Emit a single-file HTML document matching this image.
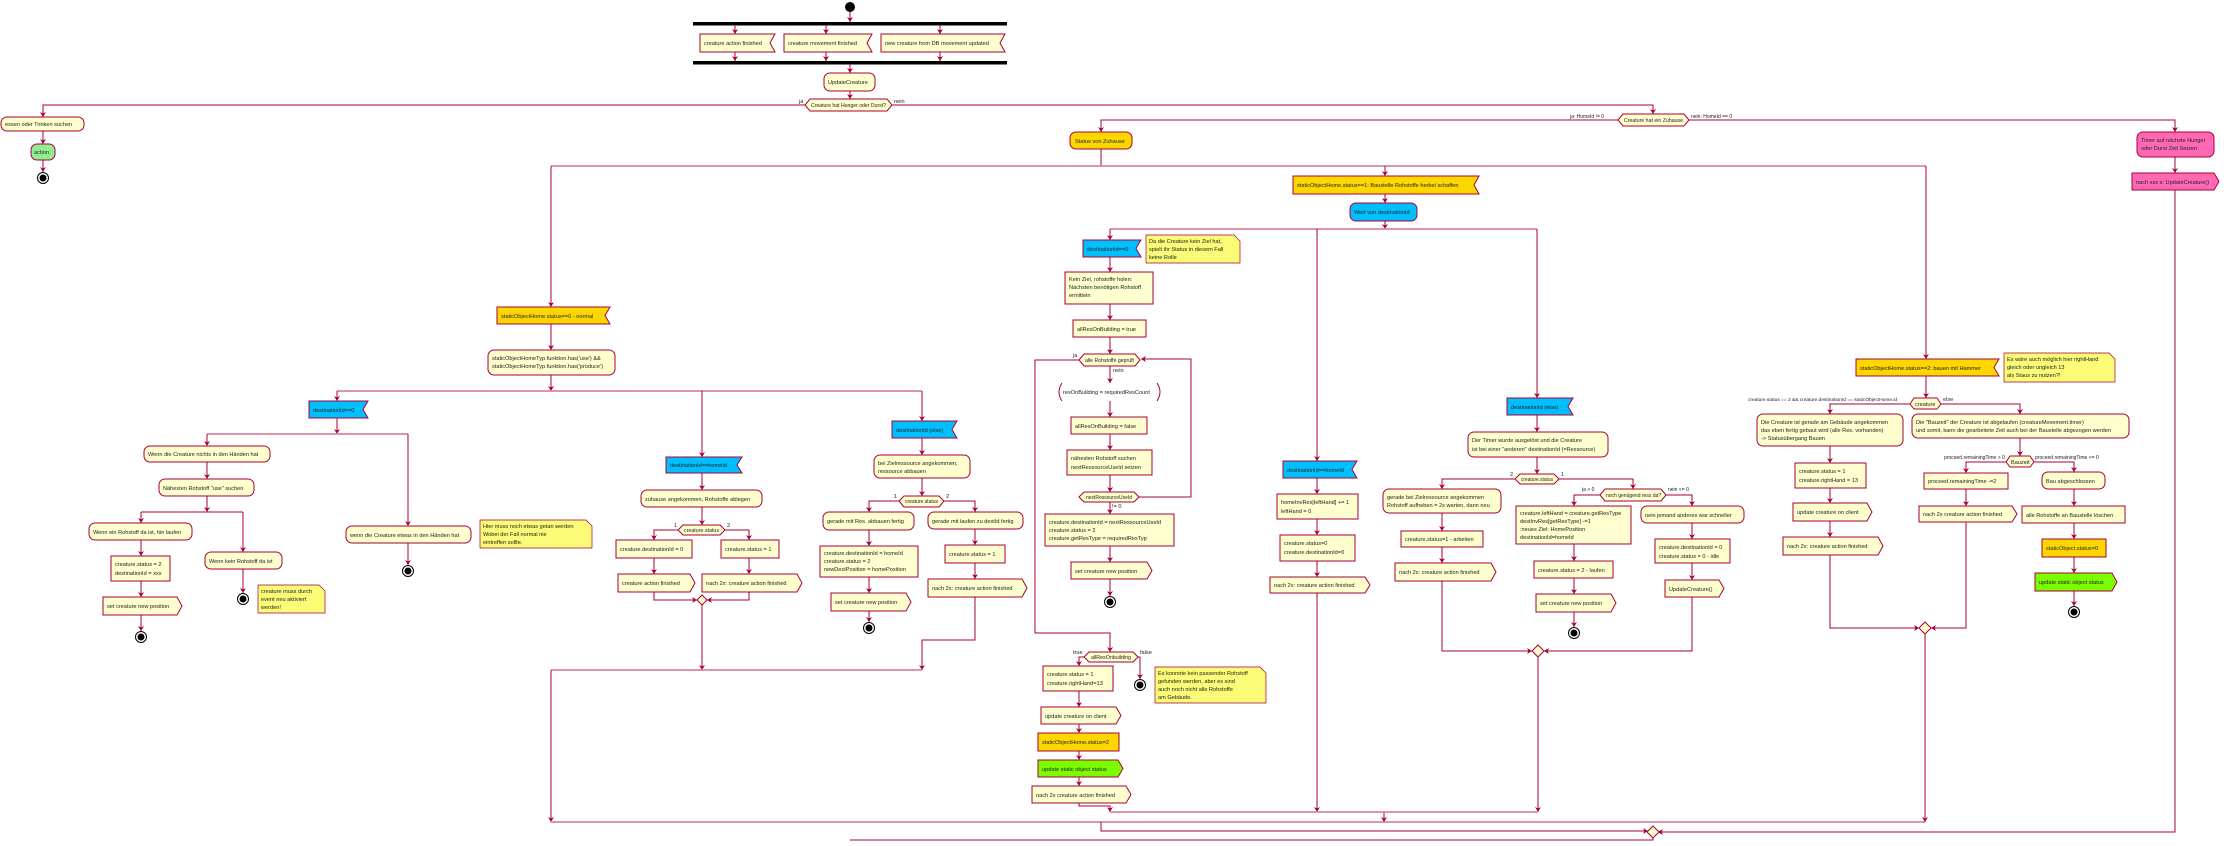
<!DOCTYPE html>
<html><head><meta charset="utf-8"><style>
html,body{margin:0;padding:0;background:#fff}
svg{display:block}
text{font-family:"Liberation Sans",sans-serif;font-size:5.6px;fill:#222}
.b{fill:#FEFECE;stroke:#A80036;stroke-width:1}
.g{fill:#FFD700;stroke:#A80036;stroke-width:1}
.bl{fill:#00BFFF;stroke:#A80036;stroke-width:1}
.gr{fill:#7CFC00;stroke:#A80036;stroke-width:1}
.lg{fill:#90EE90;stroke:#A80036;stroke-width:1}
.pk{fill:#FF69B4;stroke:#A80036;stroke-width:1}
.n{fill:#FBFB77;stroke:#A80036;stroke-width:.7}
.l{fill:none;stroke:#A80036;stroke-width:1;marker-end:url(#a)}
.l0{fill:none;stroke:#A80036;stroke-width:1}
.s{fill:none;stroke:#D9869F;stroke-width:1.8}
.k{fill:#000}
</style></head><body>
<svg width="2229" height="846" viewBox="0 0 2229 846" xmlns="http://www.w3.org/2000/svg">
<defs><marker id="a" markerWidth="6" markerHeight="6" refX="5" refY="3" orient="auto" markerUnits="userSpaceOnUse"><path d="M0,0 L5,3 L0,6 L1.5,3 Z" fill="#A80036"/></marker>
<g id="stop"><circle r="5.5" fill="#fff" stroke="#000" stroke-width="1"/><circle r="3.5" fill="#000"/></g></defs>

<!-- top -->
<circle cx="850" cy="7" r="5" class="k"/>
<rect x="693" y="22" width="314" height="3.5" class="k"/>
<rect x="693" y="61" width="314" height="3.5" class="k"/>
<polyline class="l" points="850,12 850,22"/>
<polyline class="l" points="735,25 735,34"/><polyline class="l" points="826,25 826,34"/><polyline class="l" points="940,25 940,34"/>
<polyline class="l" points="735,52 735,61"/><polyline class="l" points="826,52 826,61"/><polyline class="l" points="940,52 940,61"/>
<polygon class="b" points="700,34 775,34 770,43 775,52 700,52"/><text x="704" y="45">creature action finished</text>
<polygon class="b" points="784,34 872,34 867,43 872,52 784,52"/><text x="788" y="45">creature movement finished</text>
<polygon class="b" points="881,34 1005,34 1000,43 1005,52 881,52"/><text x="885" y="45">new creature from DB movement updated</text>
<polyline class="l" points="850,64 850,73"/>
<rect x="824" y="73" width="51" height="18" rx="6" class="b"/><text x="828" y="84">UpdateCreature</text>
<polyline class="l" points="850,91 850,99"/>
<polygon class="b" points="805,105 810,99 887,99 892,105 887,111 810,111"/><text x="811" y="107" textLength="75" lengthAdjust="spacingAndGlyphs">Creature hat Hunger oder Durst?</text>
<text x="799" y="103">ja</text><text x="894" y="103">nein</text>
<polyline class="l" points="805,105 43,105 43,117"/>
<rect x="1" y="117" width="83" height="14" rx="6" class="b"/><text x="5" y="126">essen oder Trinken suchen</text>
<polyline class="l" points="43,131 43,144"/>
<rect x="31" y="144" width="24" height="16" rx="6" class="lg"/><text x="34" y="154">action</text>
<polyline class="l" points="43,160 43,172"/><use href="#stop" x="43" y="178"/>

<polyline class="l" points="892,105 1653,105 1653,114"/>
<polygon class="b" points="1618,120 1623,114 1684,114 1689,120 1684,126 1623,126"/><text x="1624" y="122" textLength="59" lengthAdjust="spacingAndGlyphs">Creature hat ein Zuhause</text>
<text x="1570" y="118" style="font-size:5px">ja: HomeId != 0</text><text x="1691" y="118" style="font-size:5px">nein: HomeId == 0</text>
<polyline class="l" points="1618,120 1101,120 1101,132"/>
<polyline class="l" points="1689,120 2175,120 2175,132"/>
<rect x="2137" y="132" width="77" height="25" rx="6" class="pk"/><text x="2141" y="142">Timer auf nächste Hunger</text><text x="2141" y="150">oder Durst Zeit Setzen</text>
<polyline class="l" points="2175,157 2175,173"/>
<polygon class="pk" points="2132,173 2214,173 2219,181.5 2214,190 2132,190"/><text x="2136" y="184">nach xxx s: UpdateCreature()</text>
<polyline class="l" points="2175,190 2175,832 1658,832"/>

<rect x="1070" y="132" width="62" height="17" rx="6" class="g"/><text x="1075" y="143">Status von Zuhause</text>
<polyline class="l0" points="1101,149 1101,166"/>
<line class="s" x1="551" y1="166" x2="1926" y2="166"/>
<polyline class="l" points="551,166 551,307"/><polyline class="l" points="1385,166 1385,176"/><polyline class="l" points="1926,166 1926,359"/>

<!-- status 0 -->
<polygon class="g" points="497,307 610,307 605,315.5 610,324 497,324"/><text x="501" y="318">staticObjectHome.status==0 - normal</text>
<polyline class="l" points="551,324 551,350"/>
<rect x="488" y="350" width="127" height="25" rx="6" class="b"/><text x="492" y="360">staticObjectHomeTyp.funktion.has('use') &amp;&amp;</text><text x="492" y="368">staticObjectHomeTyp.funktion.has('produce')</text>
<polyline class="l" points="551,375 551,391"/>
<line class="s" x1="337" y1="391" x2="922" y2="391"/>
<polyline class="l" points="337,391 337,401"/><polyline class="l" points="702,391 702,457"/><polyline class="l" points="922,391 922,421"/>
<polygon class="bl" points="309,401 368,401 363,409.5 368,418 309,418"/><text x="313" y="412">destinationId==0</text>
<polyline class="l" points="337,418 337,434"/>
<line class="s" x1="207" y1="434" x2="408" y2="434"/>
<polyline class="l" points="207,434 207,446"/><polyline class="l" points="408,434 408,526"/>
<rect x="144" y="446" width="126" height="16" rx="6" class="b"/><text x="148" y="456">Wenn die Creature nichts in den Händen hat</text>
<polyline class="l" points="207,462 207,479"/>
<rect x="159" y="479" width="95" height="17" rx="6" class="b"/><text x="163" y="490">Nähesten Rohstoff "use" suchen</text>
<polyline class="l" points="207,496 207,512"/>
<line class="l0" x1="141" y1="512" x2="243" y2="512"/>
<polyline class="l" points="141,512 141,523"/><polyline class="l" points="243,512 243,552"/>
<rect x="89" y="523" width="103" height="17" rx="6" class="b"/><text x="93" y="534">Wenn ein Rohstoff da ist, hin laufen</text>
<polyline class="l" points="141,540 141,556"/>
<rect x="111" y="556" width="59" height="25" class="b"/><text x="115" y="566">creature.status = 2</text><text x="115" y="575">destinationId = xxx</text>
<polyline class="l" points="141,581 141,597"/>
<polygon class="b" points="103,597 177,597 182,606 177,615 103,615"/><text x="107" y="608">set creature new position</text>
<polyline class="l" points="141,615 141,631"/><use href="#stop" x="141" y="637"/>
<rect x="205" y="552" width="77" height="17" rx="6" class="b"/><text x="209" y="563">Wenn kein Rohstoff da ist</text>
<polyline class="l" points="243,569 243,593"/><use href="#stop" x="243" y="599"/>
<polygon class="n" points="258,585 319,585 325,591 325,613 258,613"/><text x="261" y="593">creature muss durch</text><text x="261" y="601">event neu aktiviert</text><text x="261" y="609">werden!</text>
<rect x="346" y="526" width="125" height="17" rx="6" class="b"/><text x="350" y="537">wenn die Creature etwas in den Händen hat</text>
<polyline class="l" points="408,543 408,565"/><use href="#stop" x="408" y="571"/>
<polygon class="n" points="480,520 586,520 592,526 592,548 480,548"/><text x="483" y="528">Hier muss noch etwas getan werden</text><text x="483" y="536">Wobei der Fall normal nie</text><text x="483" y="544">eintreffen sollte.</text>

<polygon class="bl" points="666,457 742,457 737,465 742,473 666,473"/><text x="670" y="467">destinationId==homeId</text>
<polyline class="l" points="702,473 702,490"/>
<rect x="641" y="490" width="121" height="17" rx="6" class="b"/><text x="645" y="501">zuhause angekommen, Rohstoffe ablegen</text>
<polyline class="l" points="702,507 702,525"/>
<polygon class="b" points="678,530 683,525 720,525 725,530 720,535 683,535"/><text x="684" y="532" textLength="35" lengthAdjust="spacingAndGlyphs">creature.status</text>
<text x="674" y="527">1</text><text x="727" y="527">2</text>
<polyline class="l" points="678,530 654,530 654,540"/><polyline class="l" points="725,530 749,530 749,540"/>
<rect x="616" y="540" width="76" height="18" class="b"/><text x="620" y="551">creature.destinationId = 0</text>
<rect x="721" y="540" width="58" height="18" class="b"/><text x="725" y="551">creature.status = 1</text>
<polyline class="l" points="654,558 654,574"/><polyline class="l" points="749,558 749,574"/>
<polygon class="b" points="618,574 690,574 695,583 690,592 618,592"/><text x="622" y="585">creature action finished</text>
<polygon class="b" points="702,574 797,574 802,583 797,592 702,592"/><text x="706" y="585">nach 2x: creature action finished</text>
<polyline class="l" points="654,592 654,600 697,600"/><polyline class="l" points="749,592 749,600 707,600"/>
<polygon class="b" points="702,595 707,600 702,605 697,600"/>
<polyline class="l" points="702,605 702,670"/>

<polygon class="bl" points="892,421 957,421 952,429.5 957,438 892,438"/><text x="896" y="432">destinationId (else)</text>
<polyline class="l" points="922,438 922,455"/>
<rect x="874" y="455" width="96" height="23" rx="6" class="b"/><text x="878" y="465">bei Zielressource angekommen,</text><text x="878" y="473">ressource abbauen</text>
<polyline class="l" points="922,478 922,496"/>
<polygon class="b" points="899,501 904,496 939,496 944,501 939,507 904,507"/><text x="905" y="503" textLength="33" lengthAdjust="spacingAndGlyphs">creature.status</text>
<text x="894" y="498">1</text><text x="946" y="498">2</text>
<polyline class="l" points="899,501 869,501 869,512"/><polyline class="l" points="944,501 975,501 975,512"/>
<rect x="823" y="512" width="91" height="18" rx="6" class="b"/><text x="827" y="523">gerade mit Res. abbauen fertig</text>
<polyline class="l" points="869,530 869,546"/>
<rect x="820" y="546" width="98" height="31" class="b"/><text x="824" y="555">creature.destinationId = homeId</text><text x="824" y="563">creature.status = 2</text><text x="824" y="571">newDestPosition = homePosition</text>
<polyline class="l" points="869,577 869,593"/>
<polygon class="b" points="831,593 906,593 911,602 906,611 831,611"/><text x="835" y="604">set creature new position</text>
<polyline class="l" points="869,611 869,622"/><use href="#stop" x="869" y="628"/>
<rect x="928" y="512" width="95" height="17" rx="6" class="b"/><text x="932" y="523">gerade mit laufen zu destId fertig</text>
<polyline class="l" points="975,529 975,545"/>
<rect x="945" y="545" width="60" height="18" class="b"/><text x="949" y="556">creature.status = 1</text>
<polyline class="l" points="975,563 975,579"/>
<polygon class="b" points="928,579 1022,579 1027,588 1022,597 928,597"/><text x="932" y="590">nach 2x: creature action finished</text>
<polyline class="l" points="975,597 975,640 922,640 922,670"/>
<line class="s" x1="551" y1="670" x2="922" y2="670"/>
<polyline class="l" points="551,670 551,822"/>

<!-- bottom merges -->
<line class="s" x1="551" y1="822" x2="1925" y2="822"/>
<polyline class="l" points="1925,632 1925,822"/>
<polyline class="l" points="1384,812 1384,822"/>
<polyline class="l" points="1101,822 1101,831 1648,831"/>
<polygon class="b" points="1653,826 1659,832 1653,838 1647,832"/>
<polyline class="l0" points="1653,838 1653,840 850,840"/>

<!-- status 1 -->
<polygon class="g" points="1293,176 1479,176 1474,185 1479,194 1293,194"/><text x="1297" y="187">staticObjectHome.status==1: Baustelle Rohstoffe herbei schaffen</text>
<polyline class="l" points="1385,194 1385,203"/>
<rect x="1350" y="203" width="67" height="18" rx="6" class="bl"/><text x="1354" y="214">Wert von destinationId</text>
<polyline class="l" points="1385,221 1385,229"/>
<line class="s" x1="1110" y1="229" x2="1537" y2="229"/>
<polyline class="l" points="1110,229 1110,240"/><polyline class="l" points="1317,229 1317,461"/><polyline class="l" points="1537,229 1537,398"/>
<polygon class="bl" points="1083,240 1141,240 1136,248.5 1141,257 1083,257"/><text x="1087" y="251">destinationId==0</text>
<polygon class="n" points="1146,235 1234,235 1240,241 1240,263 1146,263"/><text x="1149" y="243">Da die Creature kein Ziel hat,</text><text x="1149" y="251">spielt ihr Status in diesem Fall</text><text x="1149" y="259">keine Rolle</text>
<polyline class="l" points="1110,257 1110,272"/>
<rect x="1065" y="272" width="88" height="32" class="b"/><text x="1069" y="281">Kein Ziel, rohstoffe holen:</text><text x="1069" y="289">Nächsten benötigen Rohstoff</text><text x="1069" y="297">ermitteln</text>
<polyline class="l" points="1110,304 1110,320"/>
<rect x="1073" y="320" width="73" height="17" class="b"/><text x="1077" y="331">allResOnBuilding = true</text>
<polyline class="l" points="1110,337 1110,354"/>
<polygon class="b" points="1079,360 1084,354 1135,354 1140,360 1135,366 1084,366"/><text x="1085" y="362" textLength="49" lengthAdjust="spacingAndGlyphs">alle Rohstoffe geprüft</text>
<text x="1073" y="357">ja</text><text x="1113" y="372">nein</text>
<polyline class="l" points="1110,366 1110,383"/>
<path d="M1062,383 Q1056,392 1062,401 M1157,383 Q1163,392 1157,401" fill="none" stroke="#A80036" stroke-width="1"/><text x="1063" y="394">resOnBuilding = requiredResCount</text>
<polyline class="l" points="1110,401 1110,417"/>
<rect x="1071" y="417" width="76" height="17" class="b"/><text x="1075" y="428">allResOnBuilding = false</text>
<polyline class="l" points="1110,434 1110,450"/>
<rect x="1067" y="450" width="85" height="25" class="b"/><text x="1071" y="460">nähesten Rohstoff suchen</text><text x="1071" y="469">nextRessourceUseId setzen</text>
<polyline class="l" points="1110,475 1110,492"/>
<polygon class="b" points="1079,497 1084,492 1134,492 1139,497 1134,502 1084,502"/><text x="1086" y="499" textLength="46" lengthAdjust="spacingAndGlyphs">nextRessourceUseId</text>
<text x="1112" y="508">!= 0</text>
<polyline class="l" points="1139,497 1191,497 1191,359 1141,359"/>
<polyline class="l" points="1110,502 1110,514"/>
<rect x="1045" y="514" width="129" height="32" class="b"/><text x="1049" y="524">creature.destinationId = nextRessourceUseId</text><text x="1049" y="532">creature.status = 2</text><text x="1049" y="540">creature.getResType = requiredResTyp</text>
<polyline class="l" points="1110,546 1110,562"/>
<polygon class="b" points="1071,562 1147,562 1152,570.5 1147,579 1071,579"/><text x="1075" y="573">set creature new position</text>
<polyline class="l" points="1110,579 1110,596"/><use href="#stop" x="1110" y="602"/>
<polyline class="l" points="1079,360 1035,360 1035,633 1110,633 1110,652"/>
<polygon class="b" points="1084,657 1089,652 1133,652 1138,657 1133,662 1089,662"/><text x="1091" y="659" textLength="40" lengthAdjust="spacingAndGlyphs">allResOnbuilding</text>
<text x="1073" y="654">true</text><text x="1140" y="654">false</text>
<polyline class="l" points="1084,657 1079,657 1079,666"/>
<rect x="1043" y="666" width="70" height="25" class="b"/><text x="1047" y="676">creature.status = 1</text><text x="1047" y="685">creature.rightHand=13</text>
<polyline class="l" points="1079,691 1079,707"/>
<polygon class="b" points="1041,707 1116,707 1121,715.5 1116,724 1041,724"/><text x="1045" y="718">update creature on client</text>
<polyline class="l" points="1079,724 1079,733"/>
<rect x="1038" y="733" width="81" height="18" class="g"/><text x="1042" y="744">staticObjectHome.status=2</text>
<polyline class="l" points="1079,751 1079,760"/>
<polygon class="gr" points="1038,760 1118,760 1123,768.5 1118,777 1038,777"/><text x="1042" y="771">update static object status</text>
<polyline class="l" points="1079,777 1079,786"/>
<polygon class="b" points="1032,786 1126,786 1131,794.5 1126,803 1032,803"/><text x="1036" y="797">nach 2x creature action finished</text>
<polyline class="l" points="1079,803 1079,806 1110,806 1110,812"/>
<polyline class="l" points="1138,657 1140,657 1140,679"/><use href="#stop" x="1140" y="685"/>
<polygon class="n" points="1155,667 1260,667 1266,673 1266,703 1155,703"/><text x="1158" y="675">Es konnnte kein passender Rohstoff</text><text x="1158" y="683">gefunden werden, aber es sind</text><text x="1158" y="691">auch noch nicht alle Rohstoffe</text><text x="1158" y="699">am Gebäude.</text>

<polygon class="bl" points="1283,461 1357,461 1352,469.5 1357,478 1283,478"/><text x="1287" y="472">destinationId==homeId</text>
<polyline class="l" points="1317,478 1317,494"/>
<rect x="1277" y="494" width="81" height="25" class="b"/><text x="1281" y="504">homeInvRes[leftHand] += 1</text><text x="1281" y="513">leftHand = 0</text>
<polyline class="l" points="1317,519 1317,535"/>
<rect x="1280" y="535" width="75" height="26" class="b"/><text x="1284" y="545">creature.status=0</text><text x="1284" y="554">creature.destinationId=0</text>
<polyline class="l" points="1317,561 1317,577"/>
<polygon class="b" points="1270,577 1365,577 1370,585 1365,593 1270,593"/><text x="1274" y="587">nach 2x: creature action finished</text>
<polyline class="l" points="1317,593 1317,812"/>

<polygon class="bl" points="1507,398 1573,398 1568,406.5 1573,415 1507,415"/><text x="1511" y="409">destinationId (else)</text>
<polyline class="l" points="1537,415 1537,432"/>
<rect x="1468" y="432" width="140" height="25" rx="6" class="b"/><text x="1472" y="442">Der Timer wurde ausgelöst und die Creature</text><text x="1472" y="451">ist bei einer "anderen" destinationId (=Ressource)</text>
<polyline class="l" points="1537,457 1537,474"/>
<polygon class="b" points="1515,479 1520,474 1554,474 1559,479 1554,484 1520,484"/><text x="1521" y="481" textLength="32" lengthAdjust="spacingAndGlyphs">creature.status</text>
<text x="1510" y="476">2</text><text x="1561" y="476">1</text>
<polyline class="l" points="1515,479 1442,479 1442,489"/><polyline class="l" points="1559,479 1633,479 1633,489"/>
<rect x="1383" y="489" width="118" height="24" rx="6" class="b"/><text x="1387" y="499">gerade bei Zielressource angekommen</text><text x="1387" y="507">Rohstoff aufheben = 2s warten, dann neu</text>
<polyline class="l" points="1442,513 1442,531"/>
<rect x="1401" y="531" width="82" height="16" class="b"/><text x="1405" y="541">creature.status=1 - arbeiten</text>
<polyline class="l" points="1442,547 1442,563"/>
<polygon class="b" points="1395,563 1491,563 1496,572 1491,581 1395,581"/><text x="1399" y="574">nach 2x: creature action finished</text>
<polyline class="l" points="1442,581 1442,651 1532,651"/>
<polygon class="b" points="1600,495 1605,489 1661,489 1666,495 1661,501 1605,501"/><text x="1606" y="497" style="font-size:5px">noch genügend ress da?</text>
<text x="1582" y="491" style="font-size:5px">ja &gt; 0</text><text x="1668" y="491" style="font-size:5px">nein &lt;= 0</text>
<polyline class="l" points="1600,495 1574,495 1574,506"/><polyline class="l" points="1666,495 1692,495 1692,506"/>
<rect x="1516" y="506" width="115" height="38" class="b"/><text x="1520" y="515">creature.leftHand = creature.getResType</text><text x="1520" y="523">destInvRes[getResType] -=1</text><text x="1520" y="531">:neues Ziel: HomePosition</text><text x="1520" y="539">destinationId=homeId</text>
<polyline class="l" points="1574,544 1574,561"/>
<rect x="1534" y="561" width="79" height="17" class="b"/><text x="1538" y="572">creature.status = 2 - laufen</text>
<polyline class="l" points="1574,578 1574,594"/>
<polygon class="b" points="1536,594 1611,594 1616,603 1611,612 1536,612"/><text x="1540" y="605">set creature new position</text>
<polyline class="l" points="1574,612 1574,627"/><use href="#stop" x="1574" y="633"/>
<rect x="1641" y="506" width="103" height="17" rx="6" class="b"/><text x="1645" y="517">nein jemand anderes war schneller</text>
<polyline class="l" points="1692,523 1692,539"/>
<rect x="1655" y="539" width="75" height="24" class="b"/><text x="1659" y="549">creature.destinationId = 0</text><text x="1659" y="558">creature.status = 0 - idle</text>
<polyline class="l" points="1692,563 1692,580"/>
<polygon class="b" points="1665,580 1719,580 1724,588.5 1719,597 1665,597"/><text x="1669" y="591">UpdateCreature()</text>
<polyline class="l" points="1692,597 1692,651 1544,651"/>
<polygon class="b" points="1538,645 1544,651 1538,657 1532,651"/>
<polyline class="l" points="1538,657 1538,812"/>
<line class="s" x1="1110" y1="812" x2="1538" y2="812"/>

<!-- status 2 -->
<polygon class="g" points="1856,359 1999,359 1994,367.5 1999,376 1856,376"/><text x="1860" y="370">staticObjectHome.status==2: bauen mit Hammer</text>
<polygon class="n" points="2004,353 2109,353 2115,359 2115,382 2004,382"/><text x="2007" y="361">Es wäre auch möglich hier rightHand</text><text x="2007" y="369">gleich oder ungleich 13</text><text x="2007" y="377">als Staus zu nutzen?!</text>
<polyline class="l" points="1926,376 1926,398"/>
<polygon class="b" points="1910,404 1914,398 1937,398 1941,404 1937,409 1914,409"/><text x="1915" y="406">creature</text>
<text x="1748" y="401" style="font-size:4.8px">creature.status == 2 &amp;&amp; creature.destinationId == staticObjectHome.id</text><text x="1943" y="401">else</text>
<polyline class="l" points="1910,404 1830,404 1830,414"/><polyline class="l" points="1941,404 2020,404 2020,414"/>
<rect x="1757" y="414" width="146" height="32" rx="6" class="b"/><text x="1761" y="424">Die Creature ist gerade am Gebäude angekommen</text><text x="1761" y="432">das eben fertig gebaut wird (alle Res. vorhanden)</text><text x="1761" y="440">-&gt; Statusübergang Bauen</text>
<polyline class="l" points="1830,446 1830,463"/>
<rect x="1795" y="463" width="71" height="25" class="b"/><text x="1799" y="473">creature.status = 1</text><text x="1799" y="482">creature.rightHand = 13</text>
<polyline class="l" points="1830,488 1830,503"/>
<polygon class="b" points="1793,503 1867,503 1872,512 1867,521 1793,521"/><text x="1797" y="514">update creature on client</text>
<polyline class="l" points="1830,521 1830,537"/>
<polygon class="b" points="1783,537 1878,537 1883,546 1878,555 1783,555"/><text x="1787" y="548">nach 2x: creature action finished</text>
<polyline class="l" points="1830,555 1830,628 1919,628"/>
<rect x="1912" y="414" width="217" height="24" rx="6" class="b"/><text x="1916" y="424">Die "Bauzeit" der Creature ist abgelaufen (creatureMovement.timer)</text><text x="1916" y="432">und somit, kann die gearbeitete Zeit auch bei der Baustelle abgezogen werden</text>
<polyline class="l" points="2020,438 2020,456"/>
<polygon class="b" points="2006,462 2010,456 2030,456 2034,462 2030,467 2010,467"/><text x="2011" y="464">Bauzeit</text>
<text x="1944" y="459" style="font-size:5px">proceed.remainingTime &gt; 0</text><text x="2035" y="459" style="font-size:5px">proceed.remainingTime &lt;= 0</text>
<polyline class="l" points="2006,462 1966,462 1966,473"/><polyline class="l" points="2034,462 2074,462 2074,472"/>
<rect x="1924" y="473" width="84" height="16" class="b"/><text x="1928" y="483">proceed.remainingTime -=2</text>
<polyline class="l" points="1966,489 1966,506"/>
<polygon class="b" points="1919,506 2012,506 2017,514 2012,522 1919,522"/><text x="1923" y="516">nach 2x creature action finished</text>
<polyline class="l" points="1966,522 1966,628 1931,628"/>
<polygon class="b" points="1925,622 1931,628 1925,634 1919,628"/>
<rect x="2042" y="472" width="63" height="17" rx="6" class="b"/><text x="2046" y="483">Bau abgeschlossen</text>
<polyline class="l" points="2074,489 2074,506"/>
<rect x="2022" y="506" width="103" height="17" class="b"/><text x="2026" y="517">alle Rohstoffe an Baustelle löschen</text>
<polyline class="l" points="2074,523 2074,539"/>
<rect x="2042" y="539" width="64" height="18" class="g"/><text x="2046" y="550">staticObject.status=0</text>
<polyline class="l" points="2074,557 2074,573"/>
<polygon class="gr" points="2035,573 2112,573 2117,582 2112,591 2035,591"/><text x="2039" y="584">update static object status</text>
<polyline class="l" points="2074,591 2074,606"/><use href="#stop" x="2074" y="612"/>
</svg>
</body></html>
